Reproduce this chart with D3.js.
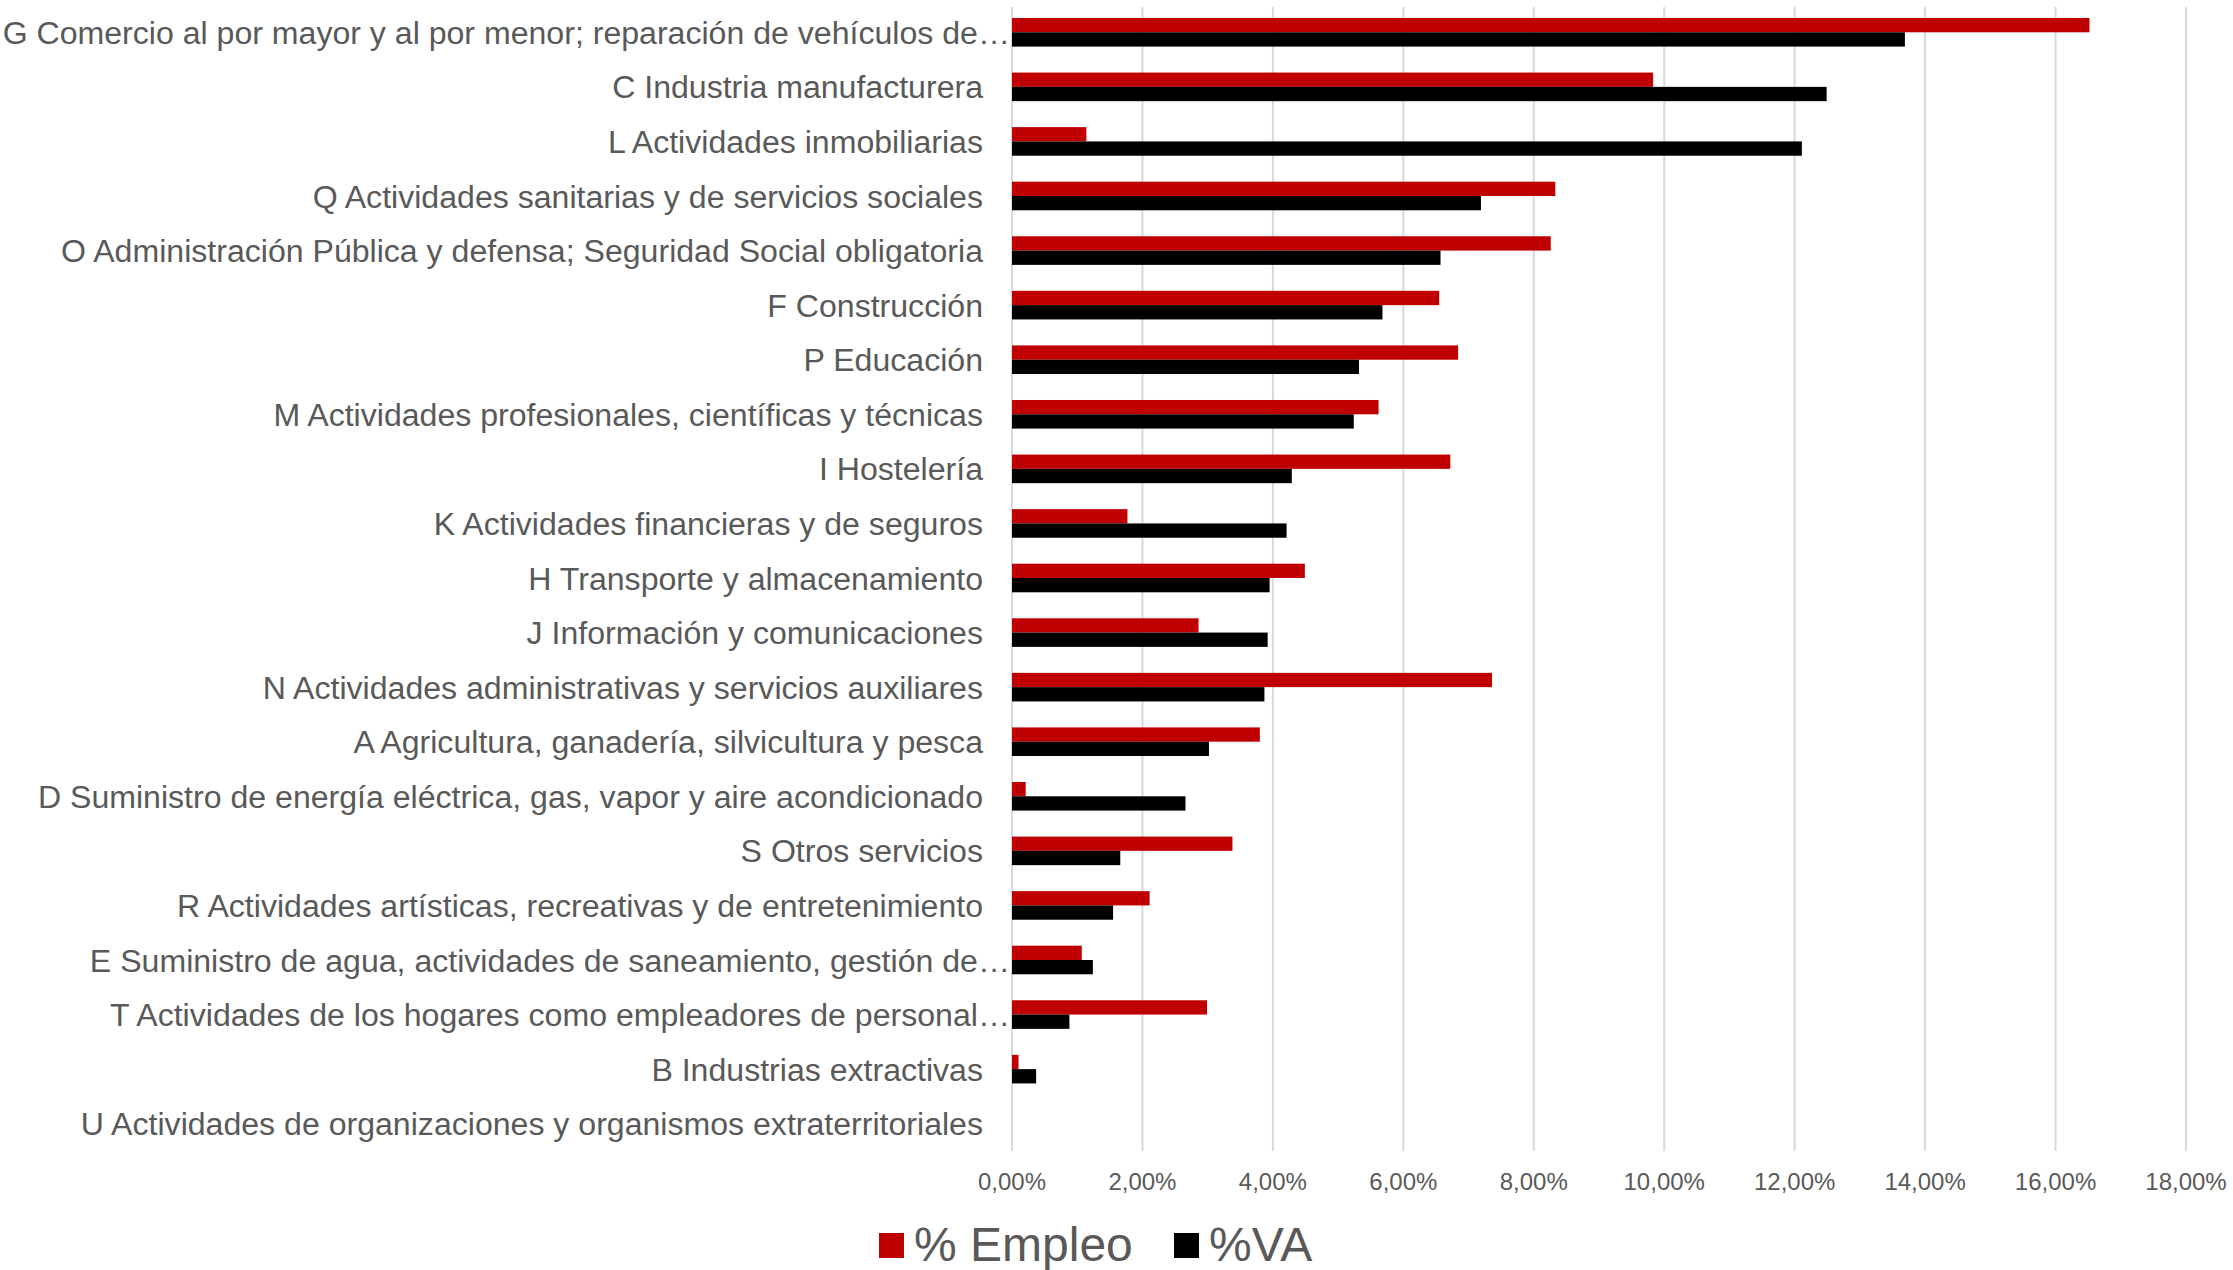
<!DOCTYPE html>
<html>
<head>
<meta charset="utf-8">
<script src="https://cdn.jsdelivr.net/npm/d3@7"></script>
<style>
  html, body { margin: 0; padding: 0; background: #fff; }
  svg { display: block; }
</style>
</head>
<body>
<div id="chart"></div>
<script>
// sectors, top to bottom
const categories = [
  'G Comercio al por mayor y al por menor; reparación de vehículos de…',
  'C Industria manufacturera',
  'L Actividades inmobiliarias',
  'Q Actividades sanitarias y de servicios sociales',
  'O Administración Pública y defensa; Seguridad Social obligatoria',
  'F Construcción',
  'P Educación',
  'M Actividades profesionales, científicas y técnicas',
  'I Hostelería',
  'K Actividades financieras y de seguros',
  'H Transporte y almacenamiento',
  'J Información y comunicaciones',
  'N Actividades administrativas y servicios auxiliares',
  'A Agricultura, ganadería, silvicultura y pesca',
  'D Suministro de energía eléctrica, gas, vapor y aire acondicionado',
  'S Otros servicios',
  'R Actividades artísticas, recreativas y de entretenimiento',
  'E Suministro de agua, actividades de saneamiento, gestión de…',
  'T Actividades de los hogares como empleadores de personal…',
  'B Industrias extractivas',
  'U Actividades de organizaciones y organismos extraterritoriales'
];

// % Empleo
const empleo = [16.52, 9.83, 1.14, 8.33, 8.26, 6.55, 6.84, 5.62, 6.72, 1.77,
  4.49, 2.86, 7.36, 3.80, 0.21, 3.38, 2.11, 1.07, 2.99, 0.10, 0];
// %VA
const va = [13.69, 12.49, 12.11, 7.19, 6.57, 5.68, 5.32, 5.24, 4.29, 4.21,
  3.95, 3.92, 3.87, 3.02, 2.66, 1.66, 1.55, 1.24, 0.88, 0.37, 0];

const seriesNames = ['% Empleo', '%VA'];
const xTicks = [0, 2, 4, 6, 8, 10, 12, 14, 16, 18];

let width = 2233;
let height = 1270;
let margin = {top: 5, right: 47, bottom: 119, left: 1012};

let svg = d3.select('#chart')
  .append('svg')
  .attr('width', width)
  .attr('height', height);

let innerW = width - margin.left - margin.right;
let innerH = height - margin.top - margin.bottom;

let g = svg.append('g')
  .attr('transform', 'translate(' + margin.left + ',' + margin.top + ')');

let colors = d3.scaleOrdinal().domain(seriesNames).range(['#c00000', '#000000']);

let x = d3.scaleLinear().domain([0, 18]).range([0, innerW]);

let y = d3.scaleBand()
  .domain(categories)
  .range([0, innerH])
  .paddingInner(0.476)
  .paddingOuter(0.238);

let ySub = d3.scaleBand().domain(seriesNames).range([0, y.bandwidth()]);

// vertical grid lines
g.append('g')
  .selectAll('line')
  .data(xTicks)
  .enter().append('line')
  .attr('x1', d => x(d))
  .attr('x2', d => x(d))
  .attr('y1', 2)
  .attr('y2', innerH)
  .attr('stroke', '#d9d9d9')
  .attr('stroke-width', 2);

// tick labels
g.append('g')
  .selectAll('text')
  .data(xTicks)
  .enter().append('text')
  .attr('x', d => x(d))
  .attr('y', innerH + 39)
  .attr('text-anchor', 'middle')
  .attr('font-family', 'Liberation Sans, Arial, sans-serif')
  .attr('font-size', 24)
  .attr('fill', '#595959')
  .text(d => d.toFixed(2).replace('.', ',') + '%');

// bars
let rows = categories.map((c, i) => ({cat: c, vals: [empleo[i], va[i]]}));

let groups = g.append('g')
  .selectAll('g')
  .data(rows)
  .enter().append('g')
  .attr('transform', d => 'translate(0,' + y(d.cat) + ')');

groups.selectAll('rect')
  .data(d => d.vals.map((v, k) => ({key: seriesNames[k], value: v})))
  .enter().append('rect')
  .attr('x', x(0))
  .attr('y', d => ySub(d.key))
  .attr('width', d => x(d.value) - x(0))
  .attr('height', ySub.bandwidth())
  .attr('fill', d => colors(d.key));

// category labels (truncated ones run up to the axis)
g.append('g')
  .selectAll('text')
  .data(categories)
  .enter().append('text')
  .attr('x', d => d.endsWith('…') ? -2 : -29)
  .attr('y', d => y(d) + y.bandwidth() / 2)
  .attr('dy', '0.36em')
  .attr('text-anchor', 'end')
  .attr('font-family', 'Liberation Sans, Arial, sans-serif')
  .attr('font-size', 32.1)
  .attr('fill', '#595959')
  .text(d => d);

// legend
let legend = svg.append('g')
  .attr('font-family', 'Liberation Sans, Arial, sans-serif')
  .attr('font-size', 48)
  .attr('fill', '#595959');

let legendX = [879, 1174];
seriesNames.forEach((name, i) => {
  legend.append('rect')
    .attr('x', legendX[i])
    .attr('y', 1233)
    .attr('width', 25)
    .attr('height', 25)
    .attr('fill', colors(name));
  legend.append('text')
    .attr('x', legendX[i] + 35)
    .attr('y', 1261)
    .text(name);
});
</script>
</body>
</html>
